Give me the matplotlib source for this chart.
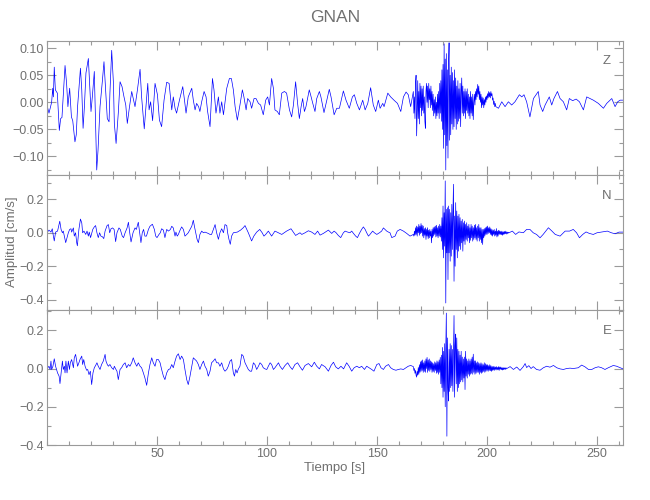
import numpy as np
import matplotlib
matplotlib.use('Agg')
import matplotlib.pyplot as plt
from matplotlib.ticker import MultipleLocator, FixedLocator, NullFormatter

# ============= data =============
# quiet parts are (time [s], amplitude [cm/s]) pairs at the wave extrema,
# bursts are samples every BURST_DT seconds starting at the given time
BURST_DT = 0.25

z_pre = [(0.0, -0.005), (0.9, -0.02), (2.1, 0.0), (2.6, 0.026), (2.9, 0.01), (3.3, 0.065), (3.8, 0.023),
         (4.7, 0.017), (5.6, -0.052), (6.2, -0.03), (6.8, -0.028), (8.2, 0.068), (8.9, 0.035), (9.5, -0.008),
         (10.3, 0.026), (11.1, -0.027), (11.7, -0.034), (12.7, -0.073), (13.3, -0.06), (13.9, -0.008),
         (15.2, 0.063), (15.8, 0.023), (16.4, -0.048), (17.0, -0.008), (17.7, 0.054), (18.8, 0.081),
         (20.0, -0.017), (20.6, 0.01), (21.5, 0.057), (22.6, -0.125), (23.2, -0.088), (24.1, -0.008),
         (25.2, 0.041), (25.9, 0.075), (26.8, 0.01), (27.4, -0.03), (28.2, -0.036), (28.6, 0.017),
         (29.4, 0.096), (30.2, 0.035), (30.6, -0.039), (31.4, -0.076), (32.4, -0.02), (33.2, 0.038),
         (34.1, 0.029), (35.0, 0.01), (35.8, -0.005), (36.5, -0.039), (37.4, -0.011), (38.5, 0.02),
         (39.2, 0.007), (40.0, -0.008), (41.1, 0.023), (42.3, 0.061), (43.0, 0.01), (44.2, -0.049),
         (45.0, -0.008), (45.8, 0.035), (46.4, -0.014), (47.1, 0.001), (48.0, -0.034), (49.1, 0.035),
         (50.2, 0.014), (51.1, -0.033), (52.1, -0.045), (53.2, 0.004), (54.4, 0.037), (55.5, 0.035),
         (56.7, -0.014), (57.4, 0.01), (58.2, -0.011), (58.9, -0.02), (60.2, 0.004), (61.7, 0.029),
         (62.4, 0.007), (63.2, -0.02), (64.2, 0.01), (65.8, 0.026), (66.5, 0.004), (67.3, -0.014),
         (68.0, -0.002), (68.9, -0.008), (69.5, -0.017), (70.3, 0.001), (71.4, 0.02), (72.3, 0.01),
         (73.0, -0.017), (74.1, -0.045), (75.2, 0.044), (75.9, 0.023), (76.8, -0.02), (77.9, 0.01),
         (78.6, -0.02), (79.4, 0.001), (80.2, -0.023), (81.7, 0.026), (82.9, 0.044), (83.8, 0.044),
         (84.7, 0.023), (85.5, -0.008), (86.5, -0.033), (87.7, -0.005), (88.8, 0.023), (89.5, 0.01),
         (90.5, -0.014), (91.2, 0.007), (92.3, 0.001), (93.0, -0.011), (94.1, 0.007), (95.0, 0.007),
         (96.1, -0.002), (97.1, -0.005), (98.3, -0.023), (99.4, 0.004), (100.3, 0.01), (101.1, -0.005),
         (102.1, 0.044), (102.9, 0.026), (103.6, -0.014), (104.7, -0.017), (105.6, -0.023), (106.7, 0.017),
         (107.9, 0.02), (108.9, 0.017), (110.2, -0.014), (111.2, -0.027), (112.0, -0.005), (113.0, 0.038),
         (113.9, -0.002), (114.7, -0.03), (115.5, -0.008), (116.2, 0.007), (117.0, -0.017), (117.7, -0.008),
         (119.2, 0.023), (119.8, 0.014), (120.8, -0.002), (121.8, -0.017), (122.6, 0.007), (123.8, 0.02),
         (124.5, 0.01), (125.9, -0.019), (128.3, 0.024), (129.1, 0.01), (130.5, -0.023), (131.7, -0.011),
         (132.9, -0.011), (134.7, 0.021), (135.9, 0.004), (137.4, -0.011), (138.8, 0.01), (139.7, 0.014),
         (140.8, -0.002), (142.0, -0.014), (143.5, 0.004), (144.6, -0.014), (145.8, -0.002), (147.1, 0.027),
         (148.3, -0.005), (149.4, -0.017), (150.6, 0.004), (151.4, -0.011), (152.6, -0.002), (153.2, -0.008),
         (154.9, 0.017), (156.2, 0.01), (157.7, 0.004), (159.3, -0.002), (160.8, -0.017), (162.0, 0.01),
         (163.2, 0.019), (164.2, 0.014), (165.3, -0.008)]
z_burst_t0 = 166.5
z_burst = [0.02, -0.02, 0.01, -0.03, 0.035, 0.05, -0.062, -0.02, 0.04, -0.03, 0.02, -0.04,
           0.035, -0.01, 0.03, -0.025, 0.025, -0.015, 0.03, -0.02, 0.01, -0.035, -0.048, 0.02,
           0.035, 0.0, 0.03, -0.01, 0.035, 0.005, 0.025, -0.01, 0.03, -0.005, 0.02, -0.015,
           0.015, -0.025, 0.005, -0.02, 0.01, -0.03, 0.0, -0.025, 0.015, -0.02, 0.02, -0.03,
           0.035, -0.02, 0.04, -0.035, 0.06, -0.05, 0.07, -0.085, 0.108, -0.06, 0.08, -0.125,
           0.09, -0.08, 0.06, -0.103, 0.07, 0.11, -0.07, 0.05, -0.06, 0.065, -0.04, 0.055,
           -0.05, 0.04, -0.045, 0.06, -0.03, 0.045, -0.05, 0.03, -0.04, 0.04, -0.035, 0.025,
           -0.03, 0.035, -0.045, 0.02, 0.045, -0.02, 0.03, -0.025, 0.02, -0.02, 0.025, -0.03,
           0.02, -0.015, 0.025, -0.02, 0.015, -0.025, 0.01, -0.03, 0.02, -0.02, 0.01, -0.025,
           0.015, -0.032, 0.0, 0.015, -0.005, 0.02, 0.005, 0.025, 0.01, 0.033, 0.015, 0.03,
           0.005, 0.02, 0.0, 0.015, -0.01, 0.01, -0.005, 0.008, -0.01, 0.005, -0.005, 0.01,
           0.0, 0.012, 0.005, 0.016, 0.008, 0.02, 0.01, 0.018, 0.008, 0.02, 0.012, 0.016,
           0.004, 0.008, -0.004, 0.002, -0.008, -0.002, -0.008]
z_post = [(205.2, -0.011), (206.7, 0.001), (208.2, -0.008), (209.7, 0.001), (211.2, -0.005), (212.7, 0.001),
          (214.7, 0.014), (215.8, 0.01), (216.8, 0.014), (218.0, 0.001), (219.5, -0.027), (221.1, 0.007),
          (222.3, 0.014), (223.3, 0.02), (224.1, -0.005), (225.3, -0.017), (226.4, -0.005), (228.3, 0.01),
          (229.4, -0.005), (230.4, 0.007), (232.0, 0.02), (233.2, 0.007), (234.7, 0.001), (236.2, -0.014),
          (237.4, 0.007), (238.9, 0.003), (240.5, 0.006), (242.0, 0.001), (243.8, -0.014), (245.3, 0.01),
          (246.8, 0.007), (248.3, 0.004), (250.6, -0.002), (252.9, -0.011), (254.4, -0.002), (256.7, 0.007),
          (258.2, -0.008), (259.4, 0.001), (260.5, 0.004), (261.8, 0.004)]

n_pre = [(0.0, 0.0), (0.9, 0.016), (1.8, 0.004), (2.4, 0.024), (2.9, -0.02), (3.3, -0.049), (3.9, 0.004),
         (4.8, 0.01), (5.8, 0.069), (6.4, 0.02), (7.0, 0.0), (7.4, 0.01), (7.9, -0.02), (8.5, -0.059),
         (9.1, -0.029), (9.7, 0.0), (10.3, 0.02), (10.9, 0.024), (11.2, 0.004), (12.0, 0.029), (12.4, -0.02),
         (13.0, 0.0), (13.5, -0.059), (13.8, -0.078), (14.5, 0.02), (15.2, 0.082), (15.8, 0.059), (16.2, 0.0),
         (16.8, 0.01), (17.6, -0.01), (18.2, 0.01), (18.8, -0.02), (19.2, 0.004), (19.8, -0.029), (20.8, 0.02),
         (21.5, 0.035), (22.1, 0.043), (22.7, 0.0), (23.3, -0.029), (23.9, 0.0), (24.5, -0.02), (25.2, -0.024),
         (25.8, -0.035), (26.4, 0.01), (27.3, 0.043), (27.9, 0.049), (28.5, 0.0), (29.1, 0.024), (29.8, 0.029),
         (30.5, 0.02), (31.2, -0.053), (31.8, 0.0), (32.7, 0.029), (33.3, 0.02), (34.2, -0.02), (34.8, -0.029),
         (35.5, 0.0), (36.4, 0.029), (37.0, 0.063), (37.6, 0.0), (38.2, -0.055), (39.1, 0.0), (40.0, 0.029),
         (40.6, 0.02), (41.5, 0.063), (42.1, 0.0), (42.7, -0.059), (43.3, 0.0), (43.9, 0.02), (44.5, -0.02),
         (45.2, -0.02), (46.1, 0.02), (46.8, 0.039), (47.9, 0.051), (48.8, 0.02), (49.4, -0.02), (50.0, -0.029),
         (50.9, -0.01), (51.5, 0.0), (52.1, 0.024), (52.9, 0.016), (53.6, -0.029), (54.4, 0.02), (55.2, 0.01),
         (56.1, 0.02), (56.7, 0.039), (57.4, 0.029), (58.2, -0.02), (58.6, 0.004), (59.2, -0.02), (59.7, -0.01),
         (60.5, 0.016), (61.2, 0.035), (62.0, 0.02), (62.7, -0.02), (63.5, -0.01), (64.2, 0.0), (65.0, 0.02),
         (65.8, 0.039), (66.5, 0.075), (67.0, 0.039), (67.6, 0.0), (68.2, -0.039), (68.8, -0.059), (69.5, -0.01),
         (70.3, 0.01), (71.1, 0.0), (71.8, 0.004), (72.6, 0.0), (73.3, -0.004), (74.1, -0.01), (74.8, -0.01),
         (75.6, 0.02), (76.4, 0.049), (77.1, 0.0), (77.9, -0.039), (78.6, 0.0), (79.4, 0.024), (80.2, 0.0),
         (80.9, 0.049), (81.7, 0.043), (82.1, 0.0), (82.7, -0.039), (83.3, -0.069), (83.9, -0.02), (84.7, 0.0),
         (86.5, 0.004), (88.0, 0.016), (89.2, 0.03), (90.0, 0.043), (91.5, 0.0), (93.0, -0.049), (94.0, -0.02),
         (95.3, 0.004), (96.7, 0.02), (97.8, 0.0), (98.6, -0.02), (99.4, -0.01), (100.6, 0.01), (102.1, -0.02),
         (103.6, 0.01), (105.2, 0.0), (106.7, -0.01), (108.9, 0.01), (110.9, 0.024), (113.0, -0.016),
         (115.0, 0.0), (115.8, -0.01), (117.3, 0.0), (118.8, 0.012), (120.3, 0.004), (121.8, -0.01),
         (123.0, 0.01), (124.1, -0.014), (125.6, -0.004), (127.9, 0.016), (129.4, -0.004), (130.5, 0.01),
         (131.4, 0.0), (132.4, -0.016), (133.5, -0.029), (134.7, 0.0), (135.5, 0.01), (136.2, 0.006),
         (137.7, 0.0), (138.5, 0.01), (139.3, -0.004), (140.3, -0.02), (141.1, -0.029), (142.0, -0.004),
         (143.0, 0.02), (143.8, 0.035), (144.6, 0.02), (145.3, 0.0), (146.1, -0.02), (146.8, -0.01),
         (148.0, 0.01), (148.8, 0.0), (149.9, -0.01), (151.1, 0.0), (152.1, 0.01), (152.9, 0.029),
         (153.6, 0.02), (154.4, 0.01), (155.2, 0.004), (155.9, 0.0), (156.7, -0.029), (158.2, -0.02),
         (159.2, 0.01), (160.5, 0.02), (162.0, 0.01), (163.5, -0.004), (165.0, -0.02)]
n_burst_t0 = 166.5
n_burst = [-0.01, -0.02, 0.01, -0.015, 0.03, -0.01, 0.04, -0.02, 0.035, 0.0, 0.05, -0.015,
           0.04, -0.005, 0.055, 0.0, 0.045, -0.02, 0.04, -0.03, 0.025, -0.015, 0.03, -0.04,
           0.02, -0.02, 0.03, -0.035, 0.015, -0.03, 0.02, -0.02, 0.01, -0.06, 0.02, -0.03,
           0.03, -0.02, 0.035, -0.01, 0.04, -0.025, 0.045, -0.02, 0.03, -0.03, 0.04, -0.02,
           0.05, -0.025, 0.04, -0.05, 0.09, -0.1, 0.16, -0.15, 0.12, -0.08, 0.31, -0.42,
           0.14, -0.12, 0.15, -0.28, 0.16, -0.12, 0.14, -0.17, 0.12, -0.14, 0.17, -0.1,
           0.12, 0.29, -0.29, 0.1, -0.2, 0.18, -0.1, 0.13, -0.15, 0.1, -0.11, 0.11,
           -0.08, 0.09, -0.1, 0.07, -0.06, 0.08, -0.11, 0.06, -0.05, 0.07, -0.07, 0.05,
           -0.04, 0.06, -0.05, 0.04, -0.03, 0.05, -0.06, 0.03, -0.045, 0.05, -0.03, 0.04,
           -0.05, 0.03, -0.04, 0.045, -0.03, 0.05, -0.04, 0.03, -0.05, 0.04, -0.03, 0.05,
           -0.05, 0.03, -0.04, 0.03, -0.06, 0.02, -0.07, 0.02, -0.03, 0.025, -0.02, 0.03,
           -0.01, 0.035, -0.01, 0.04, -0.005, 0.03, 0.0, 0.035, -0.01, 0.025, -0.015, 0.02,
           -0.02, 0.015, -0.01, 0.02, -0.02, 0.01, -0.015, 0.025, -0.025, 0.01, -0.02, 0.015,
           -0.01, 0.012, -0.01, 0.008, -0.012, 0.01, -0.015, 0.005, -0.01, 0.008, -0.008, 0.01,
           -0.006, 0.006, -0.008, 0.004, -0.004, 0.003, 0.0]
n_post = [(211.5, 0.01), (213.0, -0.01), (214.5, 0.005), (216.5, 0.0), (218.0, 0.02), (219.5, 0.02),
          (221.0, 0.0), (222.5, -0.01), (224.1, -0.03), (225.5, -0.01), (227.9, 0.03), (229.5, 0.01),
          (231.0, -0.01), (233.2, -0.02), (235.5, 0.01), (237.5, 0.01), (239.2, 0.02), (240.7, 0.0),
          (242.0, -0.03), (243.5, -0.01), (245.0, 0.005), (246.5, -0.004), (248.3, -0.01), (250.0, 0.0),
          (252.0, 0.004), (254.7, 0.01), (256.5, 0.0), (258.2, -0.006), (260.0, 0.004), (261.8, 0.004)]

e_pre = [(0.0, -0.002), (0.9, 0.012), (1.4, -0.005), (1.8, 0.039), (2.1, -0.005), (2.7, 0.012), (3.3, 0.051),
         (3.9, 0.012), (4.8, -0.023), (5.5, -0.04), (5.9, -0.079), (6.4, -0.023), (7.0, 0.039), (7.4, -0.005),
         (7.9, 0.012), (8.2, -0.023), (8.6, 0.039), (9.1, -0.023), (9.7, 0.039), (10.2, -0.005), (10.6, 0.03),
         (11.2, 0.047), (12.0, 0.004), (12.4, 0.056), (13.0, 0.074), (13.5, 0.039), (13.9, 0.012), (14.5, 0.03),
         (15.0, 0.047), (15.8, 0.065), (16.2, 0.021), (16.7, 0.047), (17.3, 0.012), (18.0, -0.009),
         (18.5, -0.005), (19.1, -0.032), (19.7, -0.014), (20.3, -0.084), (20.9, -0.023), (21.5, 0.004),
         (22.1, 0.016), (22.7, 0.03), (23.3, 0.012), (24.1, -0.005), (24.8, 0.021), (25.6, 0.039), (26.4, 0.074),
         (26.8, 0.039), (27.4, 0.021), (27.9, 0.012), (28.6, 0.021), (29.4, 0.004), (30.2, -0.005), (30.6, 0.012),
         (31.2, -0.002), (31.8, -0.014), (32.4, -0.058), (33.2, -0.005), (33.9, 0.004), (34.7, 0.021),
         (35.5, 0.03), (36.2, 0.004), (37.0, 0.021), (37.7, 0.012), (38.5, 0.03), (39.2, 0.056), (40.0, 0.03),
         (40.8, 0.012), (41.5, 0.03), (42.3, 0.012), (43.0, 0.004), (43.8, -0.023), (44.5, -0.049),
         (45.3, -0.088), (46.1, -0.023), (46.8, 0.021), (47.6, 0.056), (48.3, 0.03), (49.1, 0.012),
         (49.8, 0.047), (50.6, 0.047), (51.4, 0.03), (52.1, -0.005), (52.9, -0.04), (53.6, -0.058),
         (54.4, -0.023), (55.2, -0.005), (55.9, -0.002), (56.7, 0.021), (57.4, 0.004), (58.2, 0.039),
         (58.9, 0.065), (59.7, 0.077), (60.5, 0.047), (61.2, 0.065), (62.0, 0.047), (62.7, -0.005),
         (63.5, -0.058), (64.2, -0.084), (65.0, -0.04), (65.8, 0.012), (66.5, 0.056), (67.3, 0.047),
         (68.0, 0.039), (68.8, 0.021), (69.5, -0.005), (70.3, 0.021), (71.1, 0.039), (71.8, 0.012),
         (72.6, -0.005), (73.3, -0.04), (74.1, -0.014), (74.8, 0.03), (75.6, 0.039), (76.4, 0.051),
         (77.1, 0.03), (77.9, 0.03), (78.6, 0.012), (79.4, 0.03), (80.2, -0.002), (80.9, -0.014),
         (81.7, -0.005), (82.4, 0.012), (83.2, 0.039), (83.9, 0.047), (84.7, -0.023), (85.2, -0.04),
         (85.8, -0.005), (86.4, -0.023), (87.0, -0.002), (87.7, 0.012), (88.5, 0.074), (89.2, 0.065),
         (90.0, 0.03), (90.8, 0.012), (91.5, -0.005), (92.3, -0.014), (93.0, -0.014), (93.8, 0.03),
         (94.5, 0.021), (95.3, -0.005), (96.1, 0.012), (96.8, 0.03), (97.6, 0.021), (98.3, 0.004),
         (99.1, -0.002), (99.9, -0.005), (100.6, 0.012), (101.4, 0.03), (102.1, 0.021), (102.9, -0.005),
         (103.6, 0.004), (105.2, 0.03), (105.9, 0.012), (107.0, -0.005), (108.2, 0.016), (109.4, 0.03),
         (110.5, 0.009), (111.5, -0.005), (112.7, 0.021), (113.9, 0.03), (115.0, 0.009), (116.1, -0.009),
         (117.3, 0.016), (118.8, 0.026), (120.3, 0.009), (121.5, 0.033), (122.6, 0.012), (123.8, -0.002),
         (124.8, 0.021), (126.4, 0.009), (127.9, -0.014), (129.1, 0.016), (130.2, 0.033), (131.2, 0.009),
         (132.4, -0.002), (133.6, 0.012), (134.8, -0.002), (136.2, 0.03), (137.3, 0.012), (138.5, -0.014),
         (139.6, 0.004), (140.8, 0.012), (142.0, 0.004), (143.0, 0.012), (144.3, -0.005), (145.3, 0.012),
         (146.4, 0.004), (147.6, -0.005), (148.6, -0.014), (149.9, 0.021), (150.9, 0.026), (151.8, 0.004),
         (152.9, -0.005), (153.9, 0.012), (155.2, 0.021), (156.2, 0.004), (157.4, -0.005), (158.6, -0.009),
         (159.7, -0.005), (160.8, -0.002), (162.0, -0.005), (163.2, 0.004), (164.2, 0.012), (165.3, 0.016)]
e_burst_t0 = 166.5
e_burst = [0.01, -0.01, 0.0, -0.025, -0.01, -0.035, -0.045, -0.015, -0.035, 0.005, -0.03, 0.02,
           -0.02, 0.035, -0.015, 0.04, -0.01, 0.045, -0.02, 0.03, -0.015, 0.04, -0.02, 0.05,
           0.0, 0.058, -0.02, 0.045, -0.01, 0.05, -0.015, 0.04, -0.005, 0.035, -0.02, 0.03,
           -0.015, 0.025, -0.02, 0.035, -0.01, 0.03, -0.025, 0.04, -0.02, 0.035, -0.03, 0.045,
           -0.02, 0.058, -0.08, 0.07, -0.1, 0.11, -0.15, 0.09, -0.12, 0.13, -0.2, 0.1,
           0.29, -0.354, 0.16, -0.1, -0.17, 0.1, -0.12, 0.13, -0.1, 0.12, -0.09, 0.1,
           -0.12, 0.08, 0.277, -0.15, 0.12, 0.18, -0.08, 0.16, -0.12, 0.1, -0.1, 0.09,
           -0.08, 0.07, -0.07, 0.09, -0.06, 0.06, -0.07, 0.05, -0.05, 0.06, -0.11, 0.09,
           -0.04, 0.05, -0.05, 0.04, -0.03, 0.05, -0.04, 0.04, -0.03, 0.05, -0.025, 0.06,
           -0.03, 0.075, -0.02, 0.04, -0.03, 0.04, -0.025, 0.03, -0.02, 0.035, -0.02, 0.03,
           -0.03, 0.025, -0.02, 0.03, -0.025, 0.025, -0.02, 0.02, -0.015, 0.03, -0.02, 0.025,
           -0.015, 0.02, -0.01, 0.02, -0.015, 0.015, -0.01, 0.02, -0.012, 0.015, -0.015, 0.01,
           -0.01, 0.012, -0.008, 0.01, -0.01, 0.008, -0.005, 0.01, -0.008, 0.006, -0.006, 0.01,
           -0.01, 0.008, -0.004, 0.008, -0.006, 0.004, -0.008, 0.005, -0.006, 0.004, -0.004, 0.004,
           -0.005, 0.003, 0.0]
e_post = [(210.5, 0.01), (212.0, -0.005), (213.5, 0.008), (215.0, -0.01), (216.5, 0.01), (217.3, 0.026),
          (218.0, 0.005), (219.0, 0.015), (220.0, 0.0), (221.0, 0.01), (222.5, -0.005), (224.1, -0.009),
          (225.6, 0.004), (227.1, 0.012), (228.6, 0.007), (230.2, 0.016), (231.7, 0.004), (233.2, -0.002),
          (234.7, -0.005), (236.2, 0.0), (237.7, 0.002), (239.2, 0.0), (241.5, 0.004), (243.0, 0.018),
          (244.5, 0.009), (246.1, -0.005), (247.6, -0.005), (249.1, 0.004), (250.6, 0.009), (252.1, 0.004),
          (253.6, -0.005), (255.1, 0.004), (257.4, 0.016), (258.9, 0.012), (260.5, 0.004), (261.8, -0.002)]

components = ['Z', 'N', 'E']
ylims = [(-0.135, 0.114), (-0.463, 0.343), (-0.40, 0.305)]
yticks = [[-0.10, -0.05, 0.0, 0.05, 0.10], [-0.4, -0.2, 0.0, 0.2], [-0.4, -0.2, 0.0, 0.2]]
ytick_labels = [['\u22120.10', '\u22120.05', '0.00', '0.05', '0.10'],
                ['\u22120.4', '\u22120.2', '0.0', '0.2'],
                ['\u22120.4', '\u22120.2', '0.0', '0.2']]
yminor = [0.025, 0.1, 0.1]
xticks = [50, 100, 150, 200, 250]


def build_trace(pre, burst, t0, post):
    t_pre, v_pre = zip(*pre)
    t_post, v_post = zip(*post)
    t_b = t0 + BURST_DT * np.arange(len(burst))
    t = np.concatenate([t_pre, t_b, t_post])
    v = np.concatenate([v_pre, burst, v_post])
    return t, v


traces = [build_trace(z_pre, z_burst, z_burst_t0, z_post),
          build_trace(n_pre, n_burst, n_burst_t0, n_post),
          build_trace(e_pre, e_burst, e_burst_t0, e_post)]

# ============= plotting =============
AXCOL = '#9a9a9a'
TXTCOL = '#707070'
plt.rcParams['font.family'] = ['Liberation Sans', 'DejaVu Sans']

fig = plt.figure(figsize=(6.5, 5), dpi=100)
left, width, height = 47 / 650, 576 / 650, 134.8 / 500
bottoms = [1 - 175.4 / 500, 1 - 310.2 / 500, 1 - 445 / 500]

for i, (t, v) in enumerate(traces):
    ax = fig.add_axes([left, bottoms[i], width, height])
    ax.plot(t, v, color='#0000ff', lw=0.5)
    ax.set_xlim(0, 261.8)
    ax.set_ylim(*ylims[i])
    ax.xaxis.set_major_locator(FixedLocator(xticks))
    ax.xaxis.set_minor_locator(MultipleLocator(10))
    ax.set_yticks(yticks[i])
    ax.set_yticklabels(ytick_labels[i])
    ax.yaxis.set_minor_locator(MultipleLocator(yminor[i]))
    ax.tick_params(which='both', direction='in', top=True, right=True,
                   color=AXCOL, labelcolor=TXTCOL, labelsize=9, width=0.8)
    ax.tick_params(which='major', length=6.5, pad=2.5)
    ax.tick_params(which='minor', length=3.2)
    for s in ax.spines.values():
        s.set_color(AXCOL)
        s.set_linewidth(0.8)
    if i < 2:
        ax.xaxis.set_major_formatter(NullFormatter())
    ax.text(0.972, 0.845, components[i], transform=ax.transAxes, ha='center', va='center',
            color=TXTCOL, fontsize=9.5)

fig.text(335 / 650, 1 - 18 / 500, 'GNAN', ha='center', va='center', color=TXTCOL, fontsize=12.5)
fig.text(335 / 650, 1 - 468 / 500, 'Tiempo [s]', ha='center', va='center', color=TXTCOL, fontsize=9.5)
fig.text(12.5 / 650, 1 - 242 / 500, 'Amplitud [cm/s]', ha='center', va='center', rotation=90,
         color=TXTCOL, fontsize=9.5)

fig.savefig('out.png', dpi=100)
